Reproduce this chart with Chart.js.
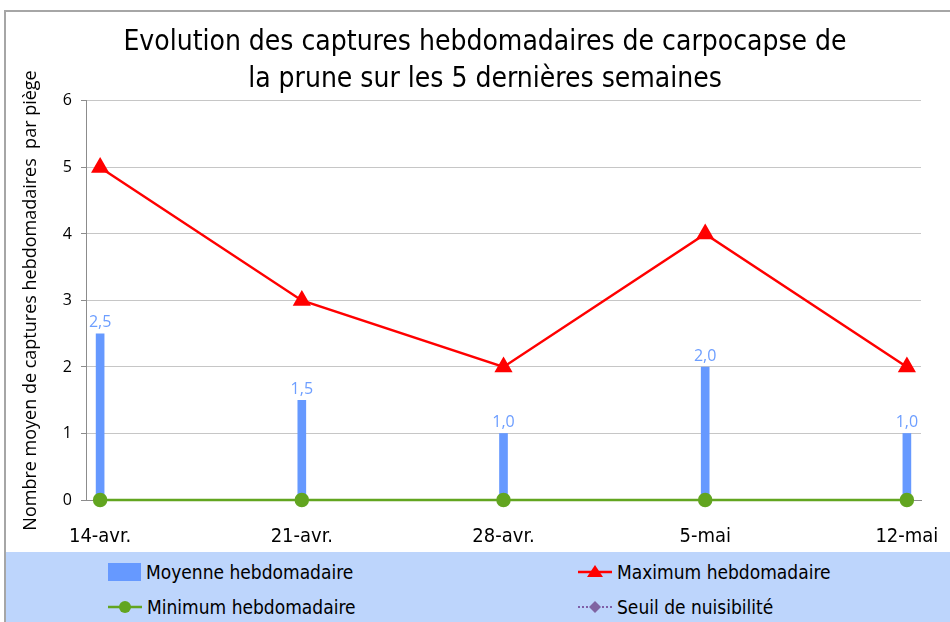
<!DOCTYPE html>
<html lang="fr">
<head>
<meta charset="utf-8">
<title>Captures hebdomadaires de carpocapse de la prune</title>
<script src="https://cdn.jsdelivr.net/npm/chart.js@4.4.1/dist/chart.umd.min.js"></script>
<style>
	body { margin: 0; background: #fff; }
	#wrap { position: relative; width: 950px; height: 622px; overflow: hidden; }
	#frame { position: absolute; left: 4px; top: 10px; width: 980px; height: 700px;
		border-left: 2px solid #a6a6a6; border-top: 2px solid #a6a6a6; }
	#chart { position: absolute; left: 0; top: 0; }
	#legend { position: absolute; left: 6px; top: 552px; width: 944px; height: 70px;
		background: #bdd5fc; font: 19px "DejaVu Sans Condensed", sans-serif; color: #000; }
	.item { position: absolute; display: flex; align-items: center; height: 24px; }
	.item svg { margin-right: 5px; }
</style>
</head>
<body>
<div id="wrap">
	<div id="frame"></div>
	<canvas id="chart" width="950" height="552"></canvas>
	<div id="legend">
		<div class="item" style="left:102px; top:8px;">
			<svg width="33" height="18"><rect x="0" y="0" width="33" height="18" fill="#6699ff"/></svg>Moyenne hebdomadaire
		</div>
		<div class="item" style="left:572px; top:8px;">
			<svg width="34" height="20"><line x1="0" y1="10" x2="34" y2="10" stroke="#ff0000" stroke-width="2.5"/><polygon points="17,3 25,15 9,15" fill="#ff0000"/></svg>Maximum hebdomadaire
		</div>
		<div class="item" style="left:102px; top:43px;">
			<svg width="34" height="20"><line x1="0" y1="10" x2="34" y2="10" stroke="#62a520" stroke-width="2.5"/><circle cx="17" cy="10" r="6" fill="#62a520"/></svg>Minimum hebdomadaire
		</div>
		<div class="item" style="left:572px; top:43px;">
			<svg width="34" height="20"><line x1="0" y1="10" x2="34" y2="10" stroke="#7f5fa8" stroke-width="2" stroke-dasharray="2,2"/><polygon points="17,4 23,10 17,16 11,10" fill="#8064a2"/></svg>Seuil de nuisibilité
		</div>
	</div>
</div>
<script>
const semaines = ["14-avr.", "21-avr.", "28-avr.", "5-mai", "12-mai"];
const moyenne = [2.5, 1.5, 1.0, 2.0, 1.0];
const maximum = [5, 3, 2, 4, 2];
const minimum = [0, 0, 0, 0, 0];
const seuil = [];
const titre = [
	"Evolution des captures hebdomadaires de carpocapse de",
	"la prune sur les 5 dernières semaines",
];
const titreAxeY = "Nombre moyen de captures hebdomadaires  par piège";

const points = serie => serie.map((v, i) => ({ x: i, y: v }));

// décale le titre pour le centrer comme sur l'original
const decalageTitre = {
	id: "decalageTitre",
	afterLayout(chart) {
		chart.titleBlock.left += 49;
	},
};

// étiquettes au-dessus des barres (format français)
const etiquettes = {
	id: "etiquettes",
	afterDatasetsDraw(chart) {
		const ctx = chart.ctx;
		const meta = chart.getDatasetMeta(0);
		ctx.save();
		ctx.font = '16px "Open Sans"';
		ctx.fillStyle = "#6d9eff";
		ctx.textAlign = "center";
		ctx.textBaseline = "bottom";
		meta.data.forEach((bar, i) => {
			ctx.fillText(moyenne[i].toFixed(1).replace(".", ","), bar.x, bar.y - 3);
		});
		ctx.restore();
	},
};

new Chart(document.getElementById("chart"), {
	type: "bar",
	data: {
		datasets: [
			{
				label: "Moyenne hebdomadaire",
				data: points(moyenne),
				backgroundColor: "#6699ff",
				barThickness: 8,
				order: 4,
			},
			{
				type: "line",
				label: "Maximum hebdomadaire",
				data: points(maximum),
				borderColor: "#ff0000",
				backgroundColor: "#ff0000",
				borderWidth: 2.5,
				pointStyle: "triangle",
				pointRadius: 8,
				tension: 0,
				clip: false,
				order: 1,
			},
			{
				type: "line",
				label: "Minimum hebdomadaire",
				data: points(minimum),
				borderColor: "#62a520",
				backgroundColor: "#62a520",
				borderWidth: 2.5,
				pointStyle: "circle",
				pointRadius: 6,
				tension: 0,
				clip: false,
				order: 2,
			},
			{
				type: "line",
				label: "Seuil de nuisibilité",
				data: points(seuil),
				borderColor: "#7f5fa8",
				backgroundColor: "#8064a2",
				borderDash: [2, 2],
				pointStyle: "rectRot",
				order: 3,
			},
		],
	},
	options: {
		responsive: false,
		animation: false,
		layout: { padding: { right: 29 } },
		plugins: {
			legend: { display: false },
			tooltip: { enabled: false },
			title: {
				display: true,
				text: titre,
				color: "#000",
				font: { family: "DejaVu Sans Condensed", size: 28, weight: "normal", lineHeight: 1.32 },
				padding: { top: 24, bottom: 3 },
			},
		},
		scales: {
			x: {
				type: "linear",
				offset: false,
				min: -0.07,
				max: 4.07,
				grid: { display: false },
				border: { display: true, color: "#8c8c8c" },
				ticks: {
					stepSize: 1,
					includeBounds: false,
					autoSkip: false,
					maxRotation: 0,
					padding: 17,
					color: "#000",
					font: { family: "DejaVu Sans Condensed", size: 20 },
					callback: v => (Number.isInteger(v) ? semaines[v] : ""),
				},
				afterFit: scale => {
					scale.height = 52;
					scale.paddingLeft = 0;
					scale.paddingRight = 0;
				},
			},
			y: {
				min: 0,
				max: 6,
				grid: { color: "#c6c6c6", tickColor: "#8c8c8c", tickLength: 5 },
				border: { color: "#8c8c8c" },
				ticks: {
					stepSize: 1,
					padding: 9,
					color: "#000",
					font: { family: "Open Sans", size: 16 },
				},
				title: {
					display: true,
					text: titreAxeY,
					color: "#000",
					font: { family: "Open Sans", size: 18 },
					padding: { top: 20 },
				},
				afterFit: scale => { scale.width = 86; },
			},
		},
	},
	plugins: [decalageTitre, etiquettes],
});
</script>
</body>
</html>
